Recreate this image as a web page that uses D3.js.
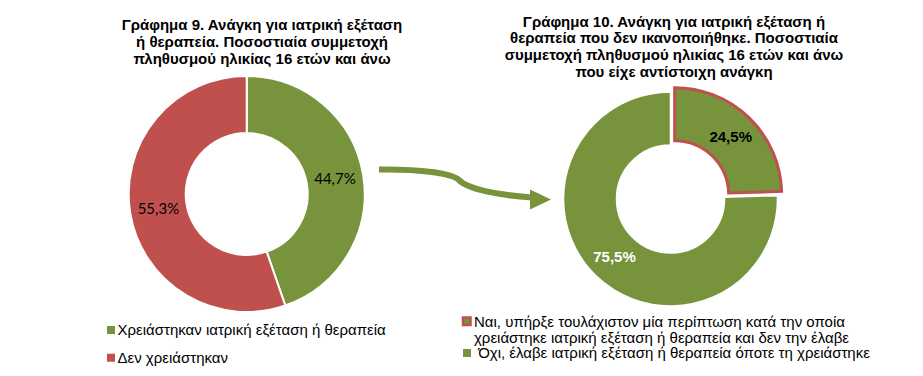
<!DOCTYPE html>
<html>
<head>
<meta charset="utf-8">
<script src="https://cdn.jsdelivr.net/npm/d3@7"></script>
<style>
  body { margin: 0; background: #fff; }
  text { font-family: "Liberation Sans", Arial, sans-serif; }
</style>
</head>
<body>
<svg id="chart"></svg>
<script>
// data
const chart9Title = ['Γράφημα 9. Ανάγκη για ιατρική εξέταση', 'ή θεραπεία. Ποσοστιαία συμμετοχή', 'πληθυσμού ηλικίας 16 ετών και άνω'];
const chart9Labels = ['Χρειάστηκαν ιατρική εξέταση ή θεραπεία', 'Δεν χρειάστηκαν'];
const chart9Values = [44.7, 55.3];

const chart10Title = ['Γράφημα 10. Ανάγκη για ιατρική εξέταση ή', 'θεραπεία που δεν ικανοποιήθηκε. Ποσοστιαία', 'συμμετοχή πληθυσμού ηλικίας 16 ετών και άνω', 'που είχε αντίστοιχη ανάγκη'];
const chart10Labels = [
  ['Ναι, υπήρξε τουλάχιστον μία περίπτωση κατά την οποία', 'χρειάστηκε ιατρική εξέταση ή θεραπεία και δεν την έλαβε'],
  [' Όχι, έλαβε ιατρική εξέταση ή θεραπεία όποτε τη χρειάστηκε']
];
const chart10Values = [24.5, 75.5];

const green = '#77933C';
const red = '#C0504D';

const width = 923;
const height = 376;

const svg = d3.select('#chart')
  .attr('width', width)
  .attr('height', height);

const fmt = v => d3.format('.1f')(v).replace('.', ',') + '%';
const pie = d3.pie().sort(null).value(d => d);

//---- chart 9 ----
const c9 = { x: 246.7, y: 194, r: 118, ir: 61 };

svg.append('text')
  .attr('x', 262).attr('y', 30)
  .attr('text-anchor', 'middle')
  .style('font-size', '15px').style('font-weight', 'bold')
  .selectAll('tspan')
  .data(chart9Title)
  .join('tspan')
    .attr('x', 262)
    .attr('dy', (d, i) => i ? 17 : 0)
    .text(d => d);

const arc9 = d3.arc().innerRadius(c9.ir).outerRadius(c9.r);
const g9 = svg.append('g').attr('transform', `translate(${c9.x},${c9.y})`);
const colors9 = [green, red];

g9.selectAll('path')
  .data(pie(chart9Values))
  .join('path')
    .attr('d', arc9)
    .attr('fill', (d, i) => colors9[i])
    .attr('stroke', '#fff')
    .attr('stroke-width', 2);

g9.selectAll('text.lbl')
  .data(pie(chart9Values))
  .join('text')
    .attr('class', 'lbl')
    .attr('transform', d => `translate(${arc9.centroid(d)})`)
    .attr('text-anchor', 'middle')
    .attr('dy', '0.35em')
    .style('font-family', 'Lato, sans-serif')
    .style('font-size', '15px')
    .attr('fill', '#000')
    .text(d => fmt(d.data));

// legend 9
const leg9 = svg.append('g');
chart9Labels.forEach((lab, i) => {
  const y = 335 + i * 27.7;
  leg9.append('rect')
    .attr('x', 107).attr('y', y - 9).attr('width', 8).attr('height', 8)
    .attr('fill', colors9[i]);
  leg9.append('text')
    .attr('x', 117.5).attr('y', y)
    .style('font-size', '15px')
    .text(lab);
});

//---- chart 10 ----
const c10 = { x: 670.5, y: 199, r: 107, ir: 54, explode: 6 };

svg.append('text')
  .attr('x', 674).attr('y', 26.5)
  .attr('text-anchor', 'middle')
  .style('font-size', '15px').style('font-weight', 'bold')
  .selectAll('tspan')
  .data(chart10Title)
  .join('tspan')
    .attr('x', 674)
    .attr('dy', (d, i) => i ? 16.7 : 0)
    .text(d => d);

const arc10 = d3.arc().innerRadius(c10.ir).outerRadius(c10.r);
const g10 = svg.append('g').attr('transform', `translate(${c10.x},${c10.y})`);
const arcs10 = pie(chart10Values);

const offset = d => {
  if (d.index !== 0) return [0, 0];
  const a = (d.startAngle + d.endAngle) / 2;
  return [Math.sin(a) * c10.explode, -Math.cos(a) * c10.explode];
};

g10.selectAll('path')
  .data(arcs10)
  .join('path')
    .attr('transform', d => `translate(${offset(d)})`)
    .attr('d', arc10)
    .attr('fill', green)
    .attr('stroke', d => d.index === 0 ? red : '#fff')
    .attr('stroke-width', d => d.index === 0 ? 3 : 1.5)
    .attr('stroke-linejoin', 'miter');

g10.selectAll('text.lbl')
  .data(arcs10)
  .join('text')
    .attr('class', 'lbl')
    .attr('transform', d => {
      const c = arc10.centroid(d), o = offset(d);
      return `translate(${c[0] + o[0]},${c[1] + o[1]})`;
    })
    .attr('text-anchor', 'middle')
    .attr('dy', '0.35em')
    .style('font-size', '15px')
    .style('font-weight', 'bold')
    .attr('fill', d => d.index === 0 ? '#000' : '#fff')
    .text(d => fmt(d.data));

// legend 10
const leg10 = svg.append('g');
leg10.append('rect')
  .attr('x', 463).attr('y', 317.5).attr('width', 7.5).attr('height', 7.5)
  .attr('fill', green).attr('stroke', red).attr('stroke-width', 2.5);
leg10.append('text')
  .attr('y', 326.7)
  .style('font-size', '15px')
  .selectAll('tspan')
  .data(chart10Labels[0])
  .join('tspan')
    .attr('x', 474)
    .attr('dy', (d, i) => i ? 16.6 : 0)
    .text(d => d);
leg10.append('rect')
  .attr('x', 463).attr('y', 349).attr('width', 8).attr('height', 8)
  .attr('fill', green);
leg10.append('text')
  .attr('x', 474).attr('y', 358.3)
  .style('font-size', '15px')
  .style('white-space', 'pre')
  .text(chart10Labels[1][0]);

//---- connecting arrow ----
svg.append('path')
  .attr('d', 'M379,169.5 C420,169 452,173 459,180 C466,188 495,195 532,197.5')
  .attr('fill', 'none')
  .attr('stroke', green)
  .attr('stroke-width', 6);
svg.append('path')
  .attr('d', 'M530,189.5 L551,199.5 L530,209.5 Z')
  .attr('fill', green);
</script>
</body>
</html>
